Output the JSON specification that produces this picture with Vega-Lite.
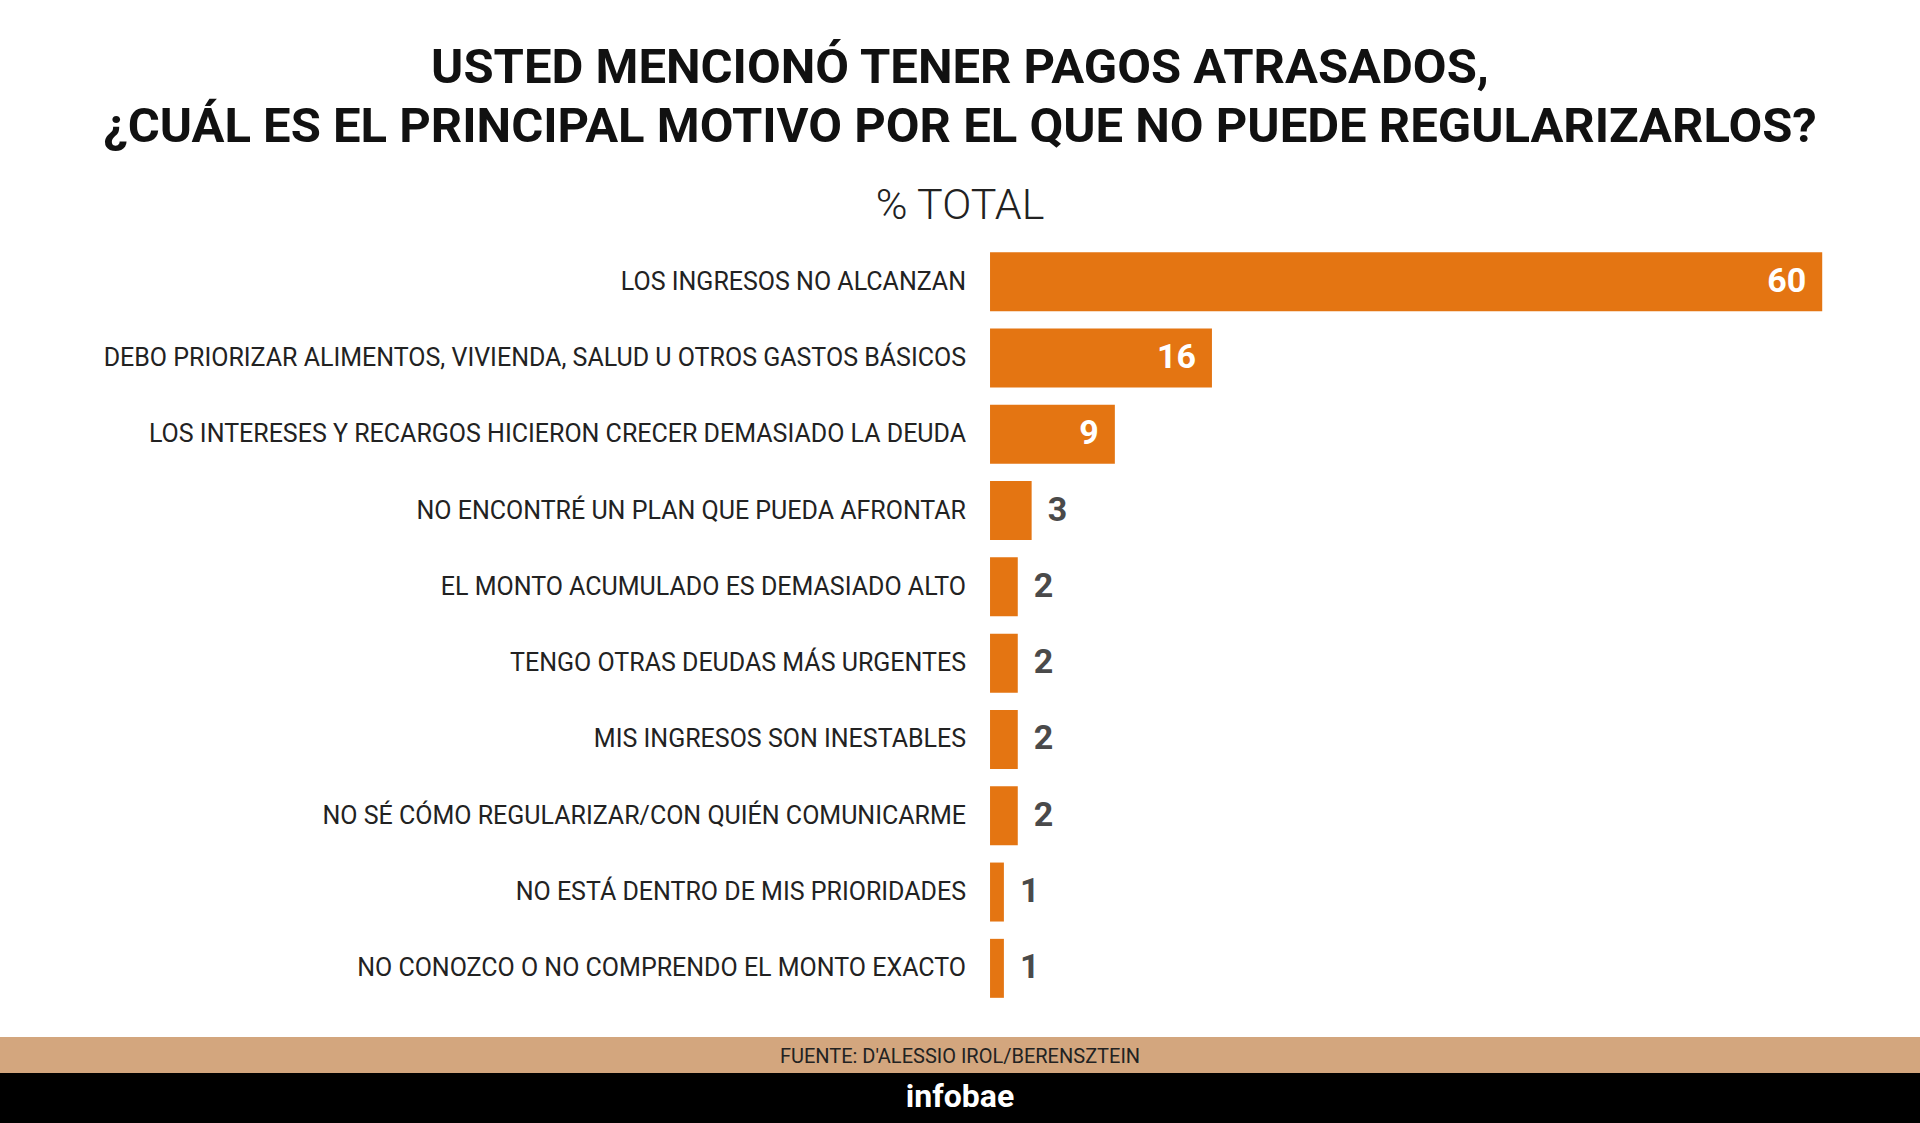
{
  "$schema": "https://vega.github.io/schema/vega-lite/v6.json",
  "description": "Motivos para no regularizar pagos atrasados, % del total",
  "background": "white",
  "padding": {"top": 44, "left": 0, "right": 0, "bottom": 0},
  "spacing": 0,
  "config": {"view": {"stroke": null}, "font": "Roboto"},
  "datasets": {
    "motivos": [
      {"motivo": "LOS INGRESOS NO ALCANZAN", "pct": 60},
      {"motivo": "DEBO PRIORIZAR ALIMENTOS, VIVIENDA, SALUD U OTROS GASTOS BÁSICOS", "pct": 16},
      {"motivo": "LOS INTERESES Y RECARGOS HICIERON CRECER DEMASIADO LA DEUDA", "pct": 9},
      {"motivo": "NO ENCONTRÉ UN PLAN QUE PUEDA AFRONTAR", "pct": 3},
      {"motivo": "EL MONTO ACUMULADO ES DEMASIADO ALTO", "pct": 2},
      {"motivo": "TENGO OTRAS DEUDAS MÁS URGENTES", "pct": 2},
      {"motivo": "MIS INGRESOS SON INESTABLES", "pct": 2},
      {"motivo": "NO SÉ CÓMO REGULARIZAR/CON QUIÉN COMUNICARME", "pct": 2},
      {"motivo": "NO ESTÁ DENTRO DE MIS PRIORIDADES", "pct": 1},
      {"motivo": "NO CONOZCO O NO COMPRENDO EL MONTO EXACTO", "pct": 1}
    ],
    "fuente": [{"t": "FUENTE: D'ALESSIO IROL/BERENSZTEIN"}],
    "marca": [{"t": "infobae"}]
  },
  "vconcat": [
    {
      "width": 1920,
      "height": 805,
      "title": {
        "text": [
          "USTED MENCIONÓ TENER PAGOS ATRASADOS,",
          "¿CUÁL ES EL PRINCIPAL MOTIVO POR EL QUE NO PUEDE REGULARIZARLOS?"
        ],
        "subtitle": "% TOTAL",
        "fontSize": 49,
        "fontWeight": "bold",
        "lineHeight": 59,
        "color": "#111111",
        "anchor": "middle",
        "frame": "group",
        "subtitleFontSize": 43,
        "subtitleFontWeight": 300,
        "subtitleColor": "#222222",
        "subtitlePadding": 33,
        "offset": 4
      },
      "data": {"name": "motivos"},
      "encoding": {
        "y": {
          "field": "motivo",
          "type": "nominal",
          "sort": null,
          "axis": null,
          "scale": {"paddingInner": 0.227, "paddingOuter": 0.389, "align": 0.34}
        }
      },
      "layer": [
        {
          "mark": {"type": "bar", "color": "#E47512"},
          "encoding": {
            "x": {
              "field": "pct",
              "type": "quantitative",
              "axis": null,
              "scale": {"domain": [-71.38, 67.05], "nice": false, "zero": false}
            },
            "x2": {"datum": 0}
          }
        },
        {
          "mark": {"type": "text", "align": "right", "dx": -24, "fontSize": 25, "letterSpacing": 0.1, "color": "#222222"},
          "encoding": {
            "x": {"datum": 0, "type": "quantitative"},
            "text": {"field": "motivo", "type": "nominal"}
          }
        },
        {
          "transform": [{"filter": "datum.pct >= 9"}],
          "mark": {"type": "text", "align": "right", "dx": -16, "fontSize": 34, "fontWeight": "bold", "color": "white"},
          "encoding": {
            "x": {"field": "pct", "type": "quantitative"},
            "text": {"field": "pct", "type": "quantitative"}
          }
        },
        {
          "transform": [{"filter": "datum.pct < 9"}],
          "mark": {"type": "text", "align": "left", "dx": 16, "fontSize": 34, "fontWeight": "bold", "color": "#4A4A4A"},
          "encoding": {
            "x": {"field": "pct", "type": "quantitative"},
            "text": {"field": "pct", "type": "quantitative"}
          }
        }
      ]
    },
    {
      "width": 1920,
      "height": 36,
      "view": {"fill": "#D3A67E", "stroke": null},
      "data": {"name": "fuente"},
      "mark": {"type": "text", "fontSize": 20, "color": "#222222", "dy": 2},
      "encoding": {"text": {"field": "t", "type": "nominal"}}
    },
    {
      "width": 1920,
      "height": 50,
      "view": {"fill": "#000000", "stroke": null},
      "data": {"name": "marca"},
      "mark": {"type": "text", "fontSize": 32, "fontWeight": "bold", "color": "white", "letterSpacing": -0.5, "dy": -1},
      "encoding": {"text": {"field": "t", "type": "nominal"}}
    }
  ]
}
